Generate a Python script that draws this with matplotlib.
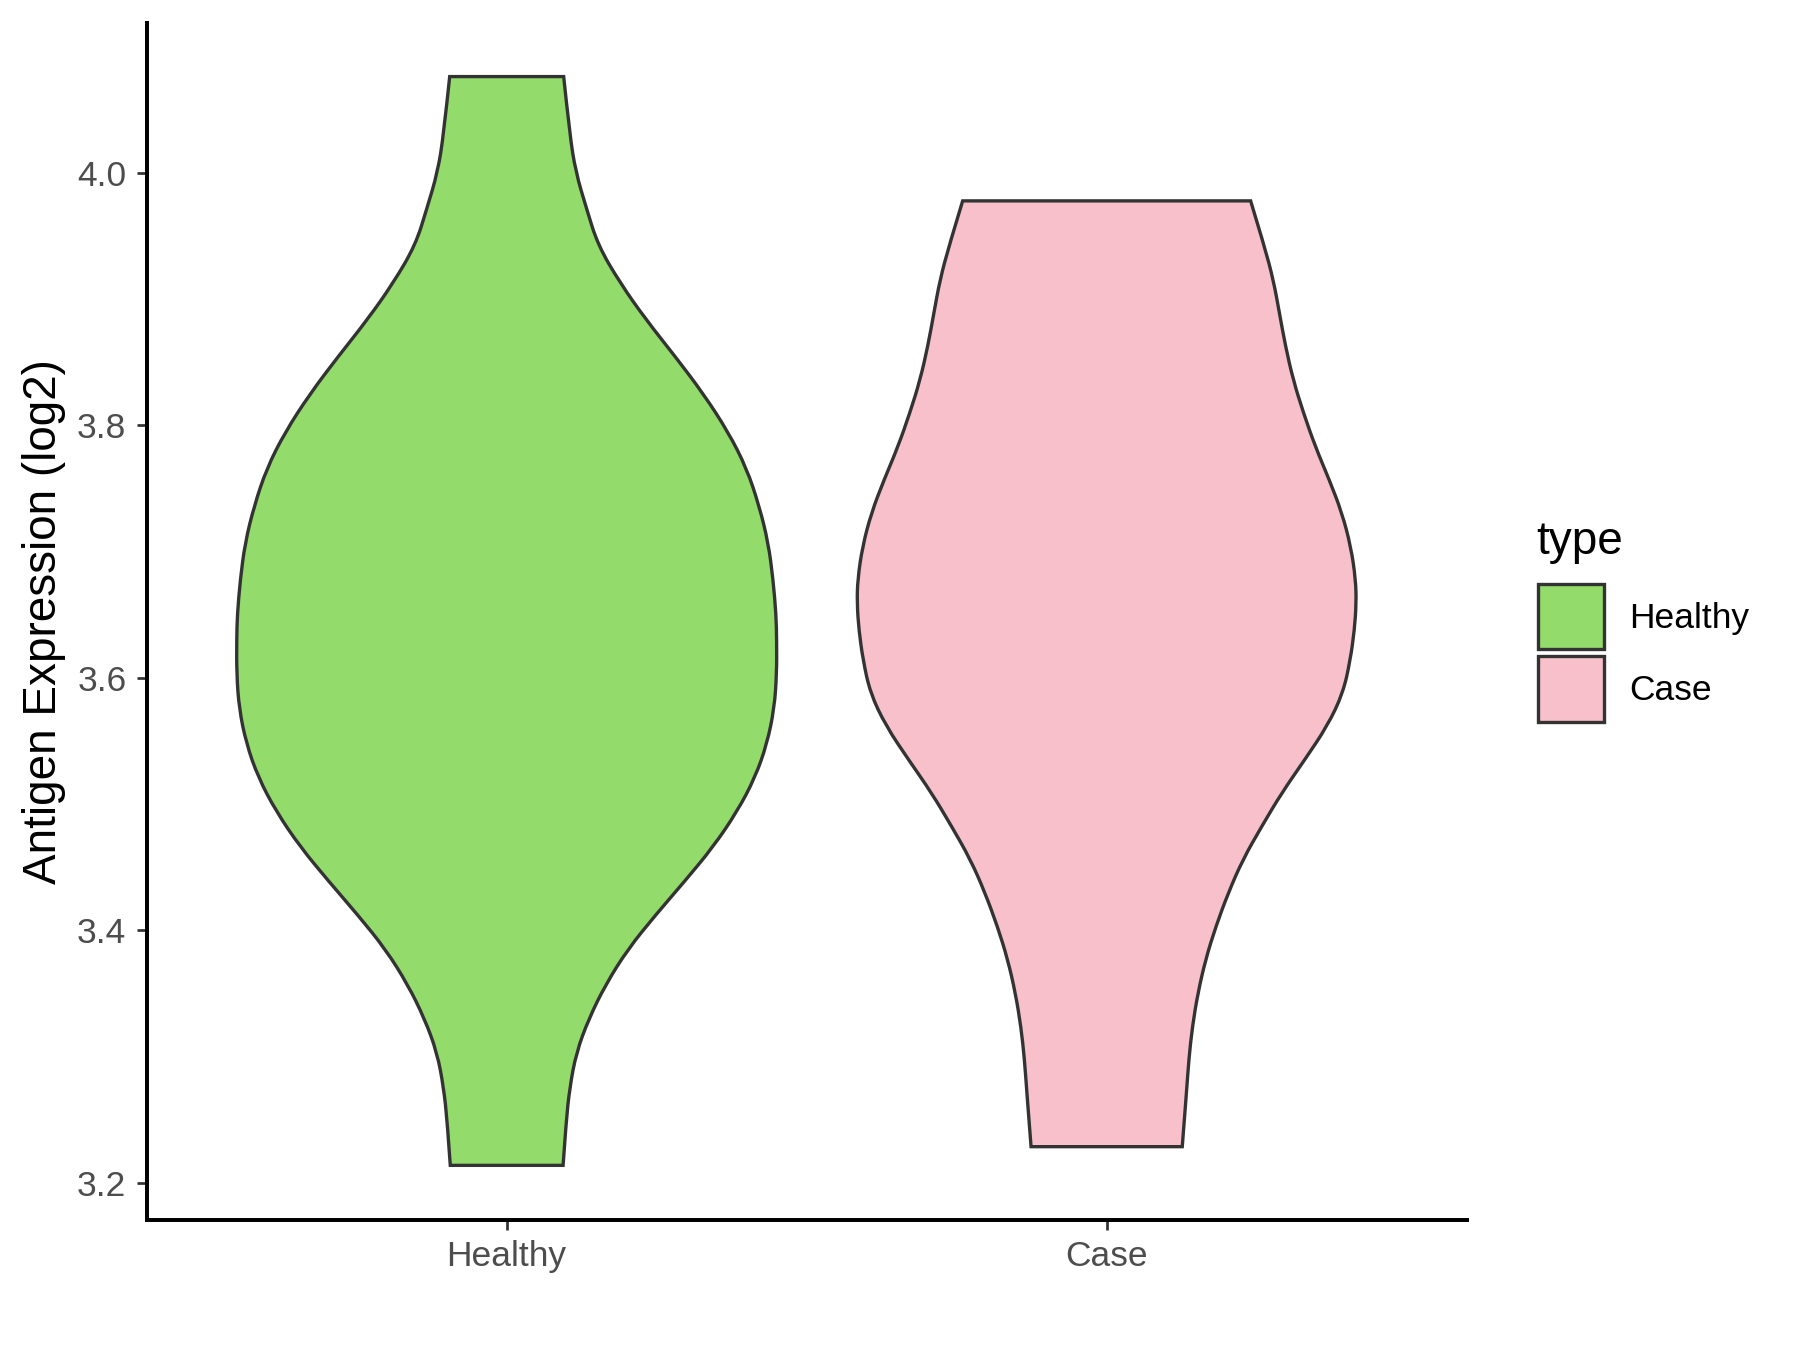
import matplotlib
matplotlib.use("Agg")
import matplotlib.pyplot as plt
from matplotlib.patches import Patch, PathPatch
from matplotlib.path import Path
import numpy as np

plt.rcParams['font.family'] = ['Liberation Sans', 'DejaVu Sans']

# groups shown on the x axis
categories = ["Healthy", "Case"]
colors = ["#93DB6B", "#F7C0CB"]

# violin outlines: expression level and half width (x units)
healthy_y = [4.0765, 4.031, 4.001, 3.972, 3.943, 3.913, 3.884, 3.854, 3.825, 3.795,
             3.766, 3.736, 3.707, 3.678, 3.650, 3.630, 3.603, 3.576, 3.548, 3.521,
             3.494, 3.466, 3.439, 3.412, 3.385, 3.357, 3.330, 3.303, 3.275, 3.248, 3.2137]
healthy_w = [0.095, 0.105, 0.115, 0.133, 0.152, 0.189, 0.232, 0.282, 0.328, 0.369,
             0.400, 0.421, 0.436, 0.444, 0.449, 0.450, 0.450, 0.446, 0.434, 0.414,
             0.384, 0.344, 0.297, 0.248, 0.202, 0.165, 0.137, 0.116, 0.105, 0.099, 0.094]

case_y = [3.978, 3.942, 3.915, 3.889, 3.863, 3.836, 3.810, 3.783, 3.757, 3.731,
          3.704, 3.678, 3.659, 3.638, 3.614, 3.588, 3.562, 3.535, 3.509, 3.482,
          3.456, 3.430, 3.403, 3.377, 3.350, 3.324, 3.298, 3.271, 3.2285]
case_w = [0.240, 0.263, 0.278, 0.288, 0.298, 0.311, 0.328, 0.348, 0.371, 0.392,
          0.407, 0.415, 0.416, 0.413, 0.406, 0.394, 0.368, 0.330, 0.292, 0.258,
          0.227, 0.203, 0.182, 0.165, 0.152, 0.143, 0.137, 0.133, 0.126]

y_ticks = [3.2, 3.4, 3.6, 3.8, 4.0]

profiles = [(healthy_y, healthy_w), (case_y, case_w)]


def smooth_side(pts):
    # quadratic bezier through the midpoints of the read outline
    verts, codes = [], []
    for i in range(1, len(pts) - 1):
        nxt = pts[i + 1] if i == len(pts) - 2 else (pts[i] + pts[i + 1]) / 2
        verts += [pts[i], nxt]
        codes += [Path.CURVE3, Path.CURVE3]
    return verts, codes


def violin_path(pos, ys, ws):
    ys = np.array(ys)
    ws = np.array(ws)
    right = np.column_stack([pos + ws, ys])
    left = np.column_stack([pos - ws, ys])[::-1]
    verts = [right[0]]
    codes = [Path.MOVETO]
    v, c = smooth_side(right)
    verts += v
    codes += c
    verts.append(left[0])
    codes.append(Path.LINETO)
    v, c = smooth_side(left)
    verts += v
    codes += c
    verts.append(right[0])
    codes.append(Path.CLOSEPOLY)
    return Path(np.array(verts), codes)


fig = plt.figure(figsize=(12, 9), dpi=150)
ax = fig.add_axes([0.0815, 0.0963, 0.7333, 0.8867])

for i, (ys, ws) in enumerate(profiles):
    patch = PathPatch(violin_path(i + 1, ys, ws), facecolor=colors[i],
                      edgecolor="#333333", linewidth=1.6, joinstyle="miter", zorder=2)
    ax.add_patch(patch)

ax.set_xlim(0.4, 2.6)
ax.set_ylim(3.1704, 4.119)
ax.set_xticks([1, 2])
ax.set_xticklabels(categories)
ax.set_yticks(y_ticks)
ax.set_yticklabels(["%.1f" % v for v in y_ticks])

for side in ["top", "right"]:
    ax.spines[side].set_visible(False)
for side in ["left", "bottom"]:
    ax.spines[side].set_linewidth(1.9)
    ax.spines[side].set_color("black")

ax.tick_params(axis="both", length=4.8, width=1.3, color="#333333",
               labelsize=17, labelcolor="#4D4D4D", pad=5)
ax.set_ylabel("Antigen Expression (log2)", fontsize=22, labelpad=5.5)

# legend: title as its own text so the gap above the keys matches
fig.text(0.8533, 0.5893, "type", fontsize=22, ha="left", va="baseline")
handles = [Patch(facecolor=c, edgecolor="#333333", linewidth=1.6, label=l)
           for c, l in zip(colors, categories)]
leg = fig.legend(handles=handles, loc="upper left",
                 bbox_to_anchor=(0.8546, 0.5672), frameon=False, fontsize=17,
                 handlelength=1.86, handleheight=2.45,
                 labelspacing=0.2, handletextpad=0.7, borderpad=0,
                 borderaxespad=0)

fig.savefig("out.png", dpi=150)
